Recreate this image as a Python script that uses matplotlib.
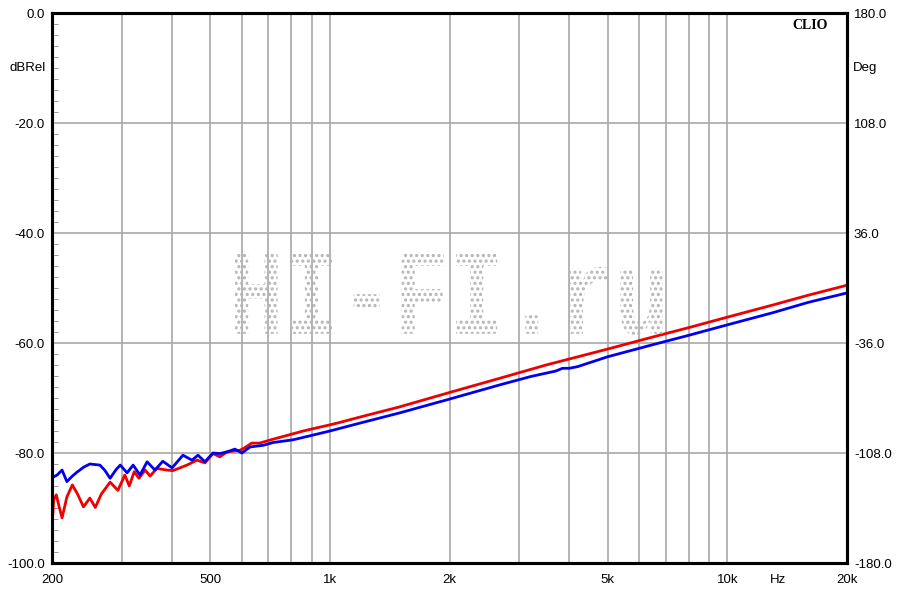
import numpy as np
import matplotlib
matplotlib.use("Agg")
import matplotlib.pyplot as plt
from matplotlib.textpath import TextPath
from matplotlib.patches import PathPatch
from matplotlib.font_manager import FontProperties
from matplotlib.transforms import Affine2D
from matplotlib.ticker import FixedLocator, NullFormatter

# red trace (Hz, dBRel)
red_f = [200, 202, 205, 208, 212, 218, 225, 232, 240, 249, 257, 266, 280, 293,
         305, 313, 322, 331, 343, 353, 367, 389, 403, 437, 463, 485, 508, 529,
         551, 594, 612, 636, 666, 719, 781, 857, 984, 1052, 1200, 1500, 2000,
         2680, 3500, 5000, 6500, 8000, 10000, 13000, 16000, 20000]
red_db = [-93.5, -88.5, -87.6, -89.5, -91.8, -88.0, -85.8, -87.5, -89.8, -88.2,
          -89.9, -87.5, -85.3, -86.8, -84.0, -86.0, -83.4, -84.6, -83.1, -84.2,
          -82.8, -83.1, -83.2, -82.2, -81.3, -81.8, -80.1, -80.7, -79.8, -79.5,
          -79.0, -78.2, -78.2, -77.5, -76.8, -76.0, -75.0, -74.5, -73.4, -71.6,
          -69.0, -66.4, -64.0, -61.1, -58.9, -57.2, -55.3, -53.1, -51.3, -49.5]

# blue trace (Hz, dBRel)
blue_f = [200, 206, 212, 218, 225, 231, 240, 249, 264, 272, 280, 290, 297, 309,
          320, 333, 347, 363, 380, 401, 427, 450, 466, 485, 508, 529, 551, 577,
          601, 630, 680, 719, 808, 900, 1000, 1200, 1500, 2000, 2680, 3200,
          3700, 3850, 4000, 4200, 5000, 6500, 8000, 10000, 13000, 16000, 20000]
blue_db = [-84.5, -84.0, -83.1, -85.2, -84.2, -83.5, -82.6, -82.0, -82.2, -83.2,
           -84.6, -83.0, -82.2, -83.6, -82.2, -84.0, -81.6, -83.1, -81.5, -82.7,
           -80.4, -81.3, -80.4, -81.6, -80.0, -80.1, -79.8, -79.3, -80.0, -78.9,
           -78.6, -78.1, -77.6, -76.8, -76.0, -74.5, -72.7, -70.2, -67.6, -66.1,
           -65.1, -64.6, -64.6, -64.3, -62.5, -60.3, -58.6, -56.7, -54.5, -52.6,
           -50.9]

x_ticks = [200, 500, 1000, 2000, 5000, 10000, 20000]
x_labels = ["200", "500", "1k", "2k", "5k", "10k", "20k"]
x_grid = [300, 400, 500, 600, 700, 800, 900, 1000, 2000, 3000, 4000, 5000,
          6000, 7000, 8000, 9000, 10000]
y_ticks = [0, -20, -40, -60, -80, -100]
deg_labels = ["180.0", "108.0", "36.0", "-36.0", "-108.0", "-180.0"]

plt.rcParams['font.family'] = ['Liberation Sans', 'DejaVu Sans']

fig = plt.figure(figsize=(9, 5.91), dpi=100)
ax = fig.add_axes([52/900, 1-563/591, 795/900, 550/591])
ax.set_xscale('log')
ax.set_xlim(200, 20000)
ax.set_ylim(-100, 0)

for f in x_grid:
    ax.axvline(f, color='#a8a8a8', lw=1.2, zorder=1)
for v in y_ticks[1:-1]:
    ax.axhline(v, color='#a8a8a8', lw=1.2, zorder=1)

# watermark, dot pattern text
tp = TextPath((0, 0), "HI-FI.ru", size=100,
              prop=FontProperties(family='Liberation Mono', weight='bold'))
ext = tp.get_extents()
x0, x1 = 235/900, 663/900
y0, y1 = 1-335/591, 1-252/591
tr = (Affine2D().translate(-ext.x0, -ext.y0)
      .scale((x1-x0)/ext.width, (y1-y0)/ext.height)
      .translate(x0, y0)) + fig.transFigure
plt.rcParams['hatch.linewidth'] = 1.5
wm = PathPatch(tp, transform=tr, facecolor='none', edgecolor='#b4b4b4',
               hatch='...', lw=0, zorder=1.5)
fig.add_artist(wm)

ax.plot(red_f, red_db, color='#ee0000', lw=2.0, zorder=3)
ax.plot(blue_f, blue_db, color='#0000ee', lw=2.0, zorder=4)

ax.xaxis.set_major_locator(FixedLocator(x_ticks))
ax.set_xticklabels(x_labels)
ax.xaxis.set_minor_formatter(NullFormatter())
ax.tick_params(axis='x', which='both', length=0, labelsize=9.5, pad=8)
ax.set_yticks(y_ticks)
ax.set_yticklabels(["%.1f" % v for v in y_ticks])
ax.yaxis.set_minor_locator(FixedLocator(np.arange(-100, 1, 2)))
ax.tick_params(axis='y', which='major', length=0, labelsize=9.5, pad=5)
ax.tick_params(axis='y', which='minor', direction='in', length=4,
               color='#888888', left=True, right=True)

ax2 = ax.twinx()
ax2.set_ylim(-180, 180)
ax2.set_yticks(np.linspace(180, -180, 6))
ax2.set_yticklabels(deg_labels)
ax2.tick_params(axis='y', length=0, labelsize=9.5, pad=5)

for a in (ax, ax2):
    for s in a.spines.values():
        s.set_linewidth(2.2)
        s.set_color('black')

ax.text(-0.008, 0.9, "dBRel", transform=ax.transAxes, ha='right', va='center',
        fontsize=9.5)
ax.text(1.008, 0.9, "Deg", transform=ax.transAxes, ha='left', va='center',
        fontsize=9.5)
ax.text(0.913, -0.02, "Hz", transform=ax.transAxes, ha='center', va='top',
        fontsize=9.5)
ax.text(0.976, 0.978, "CLIO", transform=ax.transAxes, ha='right', va='center',
        fontsize=10, fontweight='bold', family='Liberation Serif')

fig.savefig("out.png", dpi=100)
